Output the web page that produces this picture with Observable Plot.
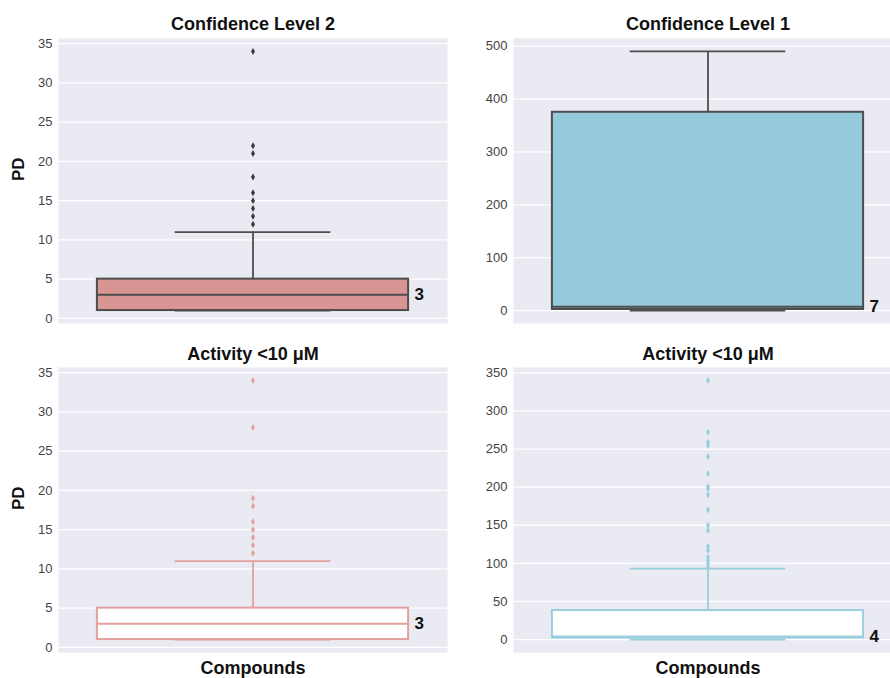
<!DOCTYPE html>
<html>
<head>
<meta charset="utf-8">
<script src="https://cdn.jsdelivr.net/npm/d3@7"></script>
<script src="https://cdn.jsdelivr.net/npm/@observablehq/plot@0.6"></script>
<style>
  html, body { margin: 0; padding: 0; background: #fff; }
  body { width: 890px; height: 678px; position: relative; overflow: hidden; font-family: "Liberation Sans", Arial, sans-serif; }
  .panel { position: absolute; }
  .panel svg { max-width: none !important; background: transparent !important; }
</style>
</head>
<body>
<script>
// ---- data ----
const panelTitles = ["Confidence Level 2", "Confidence Level 1", "Activity <10 μM", "Activity <10 μM"];
const yAxisLabels = ["PD", "", "PD", ""];
const xAxisLabels = ["", "", "Compounds", "Compounds"];
const whiskerLow  = [1, 0, 1, 0];
const quartile1   = [1, 2, 1, 2];
const medians     = [3, 7, 3, 4];
const quartile3   = [5, 375, 5, 38];
const whiskerHigh = [11, 490, 11, 93];
const medianLabels = ["3", "7", "3", "4"];
const outliersCL2 = [12, 13, 14, 15, 16, 18, 21, 22, 34];
const outliersCL1 = [];
const outliersActLeft = [12, 13, 14, 15, 16, 18, 19, 28, 34];
const outliersActRight = [95, 100, 104, 108, 117, 122, 143, 150, 170, 190, 198, 201, 218, 240, 255, 259, 272, 340];
const outlierSets = [outliersCL2, outliersCL1, outliersActLeft, outliersActRight];
const ticksCL2 = [0, 5, 10, 15, 20, 25, 30, 35];
const ticksCL1 = [0, 100, 200, 300, 400, 500];
const ticksActLeft = [0, 5, 10, 15, 20, 25, 30, 35];
const ticksActRight = [0, 50, 100, 150, 200, 250, 300, 350];
const tickSets = [ticksCL2, ticksCL1, ticksActLeft, ticksActRight];

// ---- styles ----
const styles = [
  {fill: "#D99594", stroke: "#4d4d4d", dot: "#3a3a3a"},
  {fill: "#94CADB", stroke: "#4d4d4d", dot: "#3a3a3a"},
  {fill: "#ffffff", stroke: "#E3A09E", dot: "#E3A09E"},
  {fill: "#ffffff", stroke: "#98CEDD", dot: "#98CEDD"}
];
const layout = [
  {left: 0,   top: 0,   width: 450, height: 330, mL: 58, mR: 3, mT: 38, mB: 7,  titleDy: -14},
  {left: 445, top: 0,   width: 460, height: 330, mL: 68, mR: 3, mT: 38, mB: 7,  titleDy: -14},
  {left: 0,   top: 330, width: 450, height: 348, mL: 58, mR: 3, mT: 37, mB: 26, titleDy: -13},
  {left: 445, top: 330, width: 460, height: 348, mL: 68, mR: 3, mT: 37, mB: 26, titleDy: -13}
];
const BOX_HALF = 0.4, CAP_HALF = 0.2;
const FONT = "Liberation Sans, Arial, Helvetica, sans-serif";

for (let i = 0; i < 4; i++) {
  const L = layout[i], S = styles[i];
  const outs = outlierSets[i];
  const lo = Math.min(whiskerLow[i], ...outs);
  const hi = Math.max(whiskerHigh[i], ...outs);
  const pad = (hi - lo) * 0.05;
  const stat = {lo: whiskerLow[i], q1: quartile1[i], med: medians[i], q3: quartile3[i], hi: whiskerHigh[i], label: medianLabels[i]};

  const marks = [
    Plot.frame({fill: "#EAEAF2", stroke: null}),
    Plot.ruleY(tickSets[i], {stroke: "#ffffff", strokeWidth: 1.3}),
    Plot.axisY(tickSets[i], {tickSize: 0, tickPadding: 6, fontSize: 13, label: null}),
    // whiskers
    Plot.ruleX([stat], {x: () => 0, y1: "q3", y2: "hi", stroke: S.stroke, strokeWidth: 1.8}),
    Plot.ruleX([stat], {x: () => 0, y1: "lo", y2: "q1", stroke: S.stroke, strokeWidth: 1.8}),
    Plot.ruleY([stat], {y: "hi", x1: () => -CAP_HALF, x2: () => CAP_HALF, stroke: S.stroke, strokeWidth: 1.8}),
    Plot.ruleY([stat], {y: "lo", x1: () => -CAP_HALF, x2: () => CAP_HALF, stroke: S.stroke, strokeWidth: 1.8}),
    // box
    Plot.rect([stat], {x1: () => -BOX_HALF, x2: () => BOX_HALF, y1: "q1", y2: "q3", fill: S.fill, stroke: S.stroke, strokeWidth: 2}),
    Plot.ruleY([stat], {y: "med", x1: () => -BOX_HALF, x2: () => BOX_HALF, stroke: S.stroke, strokeWidth: 2}),
    // outliers
    Plot.dot(outs, {x: () => 0, y: d => d, symbol: "diamond", r: 2.1, fill: S.dot, stroke: null}),
    // median label
    Plot.text([stat], {x: () => BOX_HALF, y: "med", text: "label", dx: 6, textAnchor: "start", lineAnchor: "middle", fontSize: 17, fontWeight: "bold", fill: "#111"}),
    // title
    Plot.text([panelTitles[i]], {x: () => 0, text: d => d, frameAnchor: "top", lineAnchor: "middle", dy: L.titleDy, fontSize: 18, fontWeight: "bold", fill: "#111"})
  ];
  if (yAxisLabels[i]) {
    marks.push(Plot.text([yAxisLabels[i]], {text: d => d, frameAnchor: "left", lineAnchor: "middle", dx: -40, rotate: -90, fontSize: 17, fontWeight: "bold", fill: "#111"}));
  }
  if (xAxisLabels[i]) {
    marks.push(Plot.text([xAxisLabels[i]], {x: () => 0, text: d => d, frameAnchor: "bottom", lineAnchor: "middle", dy: 16, fontSize: 18, fontWeight: "bold", fill: "#111"}));
  }

  const svg = Plot.plot({
    width: L.width, height: L.height,
    marginLeft: L.mL, marginRight: L.mR, marginTop: L.mT, marginBottom: L.mB,
    style: {fontFamily: FONT, color: "#444", background: "transparent", overflow: "visible"},
    x: {domain: [-0.5, 0.5], axis: null},
    y: {domain: [lo - pad, hi + pad], axis: null},
    marks
  });
  const div = document.createElement("div");
  div.className = "panel";
  div.style.left = L.left + "px";
  div.style.top = L.top + "px";
  div.style.width = L.width + "px";
  div.style.height = L.height + "px";
  div.appendChild(svg);
  document.body.appendChild(div);
}
</script>
</body>
</html>
